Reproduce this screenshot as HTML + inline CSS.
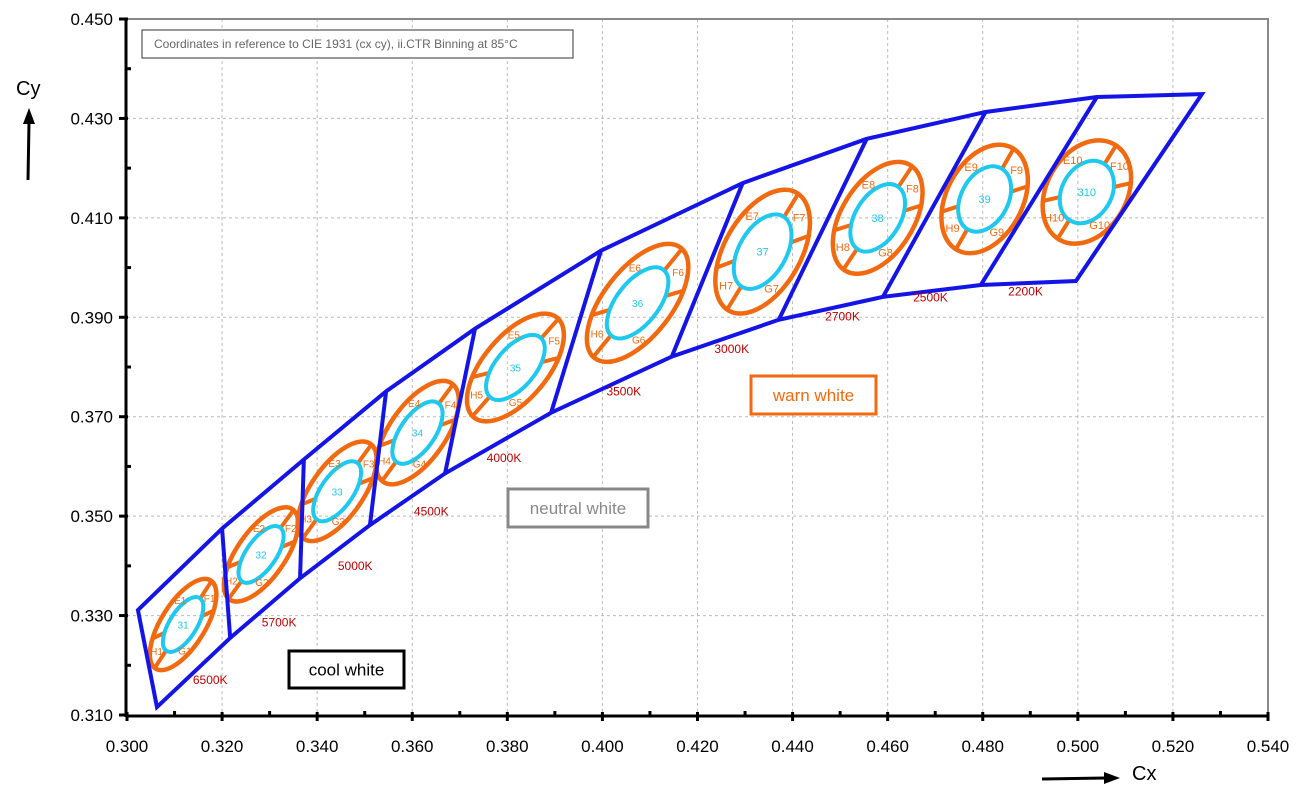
<!DOCTYPE html>
<html><head><meta charset="utf-8"><style>
html,body{margin:0;padding:0;background:#fff;}
svg{display:block;font-family:"Liberation Sans",Arial,sans-serif;}
</style></head><body>
<svg id="chart" width="1310" height="792" viewBox="0 0 1310 792" xmlns="http://www.w3.org/2000/svg"></svg>
<script>
const xTicks=[0.300,0.320,0.340,0.360,0.380,0.400,0.420,0.440,0.460,0.480,0.500,0.520,0.540];
const yTicks=[0.310,0.330,0.350,0.370,0.390,0.410,0.430,0.450];
const upperX=[0.3023,0.3200,0.3372,0.3545,0.3732,0.3997,0.4295,0.4556,0.4806,0.5040,0.5261];
const upperY=[0.3311,0.3475,0.3614,0.3751,0.3877,0.4034,0.4170,0.4259,0.4313,0.4343,0.4349];
const lowerX=[0.3063,0.3217,0.3364,0.3511,0.3669,0.3892,0.4146,0.4371,0.4590,0.4796,0.4996];
const lowerY=[0.3116,0.3255,0.3375,0.3482,0.3586,0.3708,0.3821,0.3895,0.3941,0.3965,0.3973];
const binNames=["1","2","3","4","5","6","7","8","9","10"];
const binCx=[0.3118,0.3282,0.3442,0.3611,0.3817,0.4074,0.4337,0.4579,0.4804,0.5019];
const binCy=[0.3282,0.3423,0.3550,0.3668,0.3799,0.3929,0.4032,0.4100,0.4138,0.4152];
const cctLabels=["6500K","5700K","5000K","4500K","4000K","3500K","3000K","2700K","2500K","2200K"];
const cctX=[0.3175,0.3320,0.3480,0.3640,0.3793,0.4045,0.4272,0.4505,0.4690,0.4890];
const cctY=[0.3162,0.3278,0.3392,0.3501,0.3609,0.3743,0.3828,0.3894,0.3932,0.3944];
// styling (pixel) per bin
const aO=[52,55,58,60,65,70,68,62,58,55], bO=[22,24,26,28,32,34,38,36,38,40], ang=[-58,-55,-55,-55,-50,-52,-60,-58,-62,-60];

const X0=127,X1=1268,Y0=715,Y1=19;
const sx=v=>X0+(v-0.3)/(0.24)*(X1-X0);
const sy=v=>Y0-(v-0.31)/(0.14)*(Y0-Y1);
const svg=document.getElementById('chart');
const NS='http://www.w3.org/2000/svg';
function mk(tag,attrs,parent){const e=document.createElementNS(NS,tag);for(const k in attrs)e.setAttribute(k,attrs[k]);(parent||svg).appendChild(e);return e;}
function txt(s,attrs,parent){const e=mk('text',attrs,parent);e.textContent=s;return e;}

// grid
const grid=mk('g',{});


xTicks.forEach(t=>{if(t>0.3&&t<0.54)mk('line',{x1:sx(t),x2:sx(t),y1:Y1,y2:Y0,stroke:'#bbb','stroke-dasharray':'3,3','stroke-width':1},grid);});
yTicks.forEach(t=>{if(t>0.31&&t<0.45)mk('line',{x1:X0,x2:X1,y1:sy(t),y2:sy(t),stroke:'#bbb','stroke-dasharray':'3,3','stroke-width':1},grid);});
// frame
const frame=mk('path',{d:`M${X0} ${Y1}H${X1}V${Y0}`,fill:'none',stroke:'#888','stroke-width':2});


// axes
const xa=mk('g',{});


mk('line',{x1:X0,x2:X1+1,y1:Y0+1,y2:Y0+1,stroke:'#000','stroke-width':3},xa);
xTicks.forEach((t,i)=>{
  mk('line',{x1:sx(t),x2:sx(t),y1:Y0-3,y2:Y0+6,stroke:'#000','stroke-width':3},xa);
  if(i<xTicks.length-1){const m=sx(t+0.01);mk('line',{x1:m,x2:m,y1:Y0-4,y2:Y0+1,stroke:'#000','stroke-width':3},xa);}
  const l=txt(t.toFixed(3),{x:sx(t),y:752,'text-anchor':'middle','font-size':17,fill:'#000'},xa);
  
  
});
const ya=mk('g',{});


mk('line',{x1:X0-1,x2:X0-1,y1:Y1-1,y2:Y0+2,stroke:'#000','stroke-width':3},ya);
yTicks.forEach((t,i)=>{
  mk('line',{x1:X0-8,x2:X0+1,y1:sy(t),y2:sy(t),stroke:'#000','stroke-width':3},ya);
  if(i<yTicks.length-1){const m=sy(t+0.01);mk('line',{x1:X0-1,x2:X0+4,y1:m,y2:m,stroke:'#000','stroke-width':3},ya);}
  const l=txt(t.toFixed(3),{x:X0-14,y:sy(t)+6,'text-anchor':'end','font-size':17,fill:'#000'},ya);
  
  
});
// axis titles
const cy=txt('Cy',{x:16,y:95,'font-size':20,fill:'#000'});


mk('line',{x1:28,y1:180,x2:29,y2:122,stroke:'#000','stroke-width':3});
mk('polygon',{points:'23,124 35,124 29,108',fill:'#000'});
const cxT=txt('Cx',{x:1132,y:780,'font-size':20,fill:'#000'});


mk('line',{x1:1042,y1:779,x2:1106,y2:778,stroke:'#000','stroke-width':3});
mk('polygon',{points:'1104,772 1104,784 1120,778',fill:'#000'});

// note box
const nb=mk('g',{});


mk('rect',{x:142,y:30,width:431,height:28,fill:'#fff',stroke:'#333','stroke-width':1},nb);
txt('Coordinates in reference to CIE 1931 (cx cy), ii.CTR Binning at 85°C',{x:154,y:48,'font-size':12,fill:'#666'},nb);

// ellipses (bins)
const toRad=d=>d*Math.PI/180;
function ept(cxp,cyp,a,b,th,t){return [cxp+a*Math.cos(t)*Math.cos(th)-b*Math.sin(t)*Math.sin(th), cyp+a*Math.cos(t)*Math.sin(th)+b*Math.sin(t)*Math.cos(th)];}
const spokeT=[0.05,1.0,3.19,4.14];
const labelT=[['E',5.2],['F',0.5],['G',2.1],['H',3.65]];
binNames.forEach((n,i)=>{
  const g=mk('g',{});
  
  
  const px=sx(binCx[i]),py=sy(binCy[i]),a=aO[i],b=bO[i],th=toRad(ang[i]);
  const ca=a*0.6,cb=b*0.62;
  mk('ellipse',{cx:px,cy:py,rx:a,ry:b,transform:`rotate(${ang[i]} ${px} ${py})`,fill:'none',stroke:'#f26a10','stroke-width':4.5},g);
  spokeT.forEach(t=>{
    const p1=ept(px,py,ca,cb,th,t),p2=ept(px,py,a,b,th,t);
    mk('line',{x1:p1[0],y1:p1[1],x2:p2[0],y2:p2[1],stroke:'#f26a10','stroke-width':4},g);
  });
  mk('ellipse',{cx:px,cy:py,rx:ca,ry:cb,transform:`rotate(${ang[i]} ${px} ${py})`,fill:'none',stroke:'#1ec8ee','stroke-width':4},g);
  const fs=i>=6?11:10;
  txt('3'+n,{x:px,y:py+4,'text-anchor':'middle','font-size':fs,fill:'#1ec8ee'},g);
  labelT.forEach(o=>{const p=ept(px,py,a*0.8,b*0.8,th,o[1]);txt(o[0]+n,{x:p[0],y:p[1]+4,'text-anchor':'middle','font-size':fs,fill:'#f26a10'},g);});
});

// blue boundary
const bl=mk('g',{});


const N=upperX.length;
let d=`M${sx(upperX[0])} ${sy(upperY[0])}`;
for(let i=1;i<N;i++)d+=`L${sx(upperX[i])} ${sy(upperY[i])}`;
d+=`L${sx(lowerX[N-1])} ${sy(lowerY[N-1])}`;
for(let i=N-2;i>=0;i--)d+=`L${sx(lowerX[i])} ${sy(lowerY[i])}`;
d+='Z';
mk('path',{d,fill:'none',stroke:'#1414e6','stroke-width':4,'stroke-linejoin':'miter'},bl);
for(let i=1;i<N-1;i++)mk('line',{x1:sx(upperX[i]),y1:sy(upperY[i]),x2:sx(lowerX[i]),y2:sy(lowerY[i]),stroke:'#1414e6','stroke-width':4},bl);

// CCT labels
cctLabels.forEach((s,i)=>{
  const l=txt(s,{x:sx(cctX[i]),y:sy(cctY[i]),'text-anchor':'middle','font-size':12,fill:'#c00000'});
  
  
});

// category boxes
function box(name,x,y,w,h,col,tcol,s){
  const g=mk('g',{});
  
  
  mk('rect',{x,y,width:w,height:h,fill:'#fff',stroke:col,'stroke-width':3},g);
  txt(s,{x:x+w/2,y:y+h/2+6,'text-anchor':'middle','font-size':17,fill:tcol},g);
}
box('cool-white-box',289,651,115,37,'#000','#000','cool white');
box('neutral-white-box',508,489,140,38,'#888','#888','neutral white');
box('warm-white-box',751,376,125,38,'#f26a10','#f26a10','warn white');
</script>
</body></html>
